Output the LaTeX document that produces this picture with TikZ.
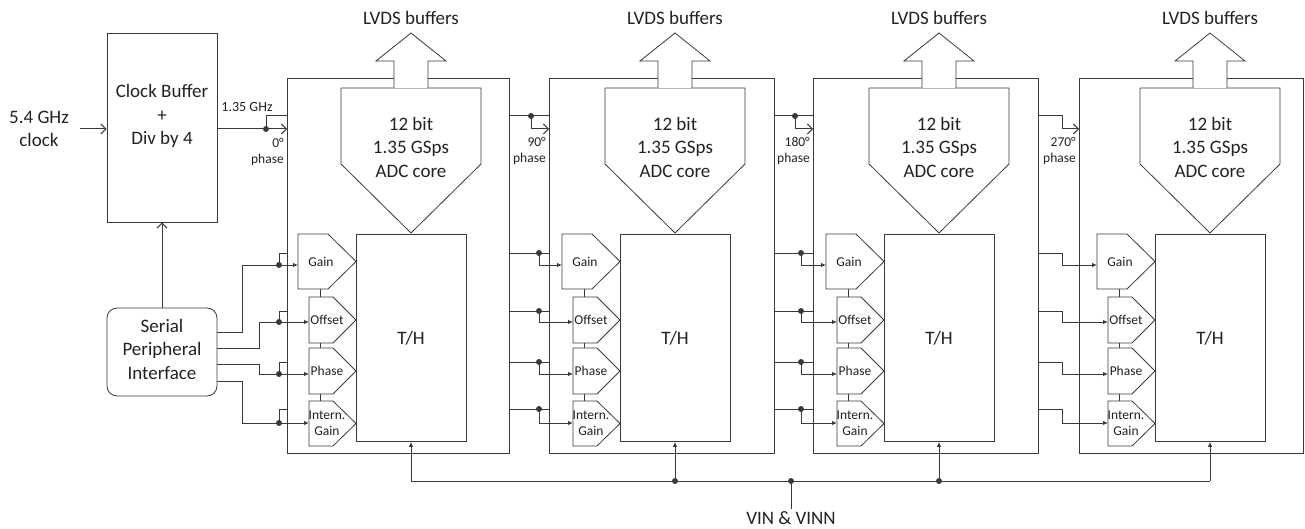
\documentclass[tikz,border=0pt]{standalone}
\usepackage{fontspec}
\setmainfont{Carlito}
\usetikzlibrary{arrows.meta}
\definecolor{lc}{HTML}{3A3A3A}
\definecolor{tc}{HTML}{222222}
\tikzset{
  ln/.style={draw=lc, line width=1pt},
  box/.style={draw=lc, line width=0.8pt, fill=white, inner sep=0pt},
  big/.style={font=\fontsize{19}{23.5}\selectfont, text=tc, align=center},
  small/.style={font=\fontsize{13.5}{16.5}\selectfont, text=tc, align=center},
  sig/.style={draw=lc, line width=1pt, -{Latex[length=5pt,width=4.5pt]}},
  clkarrow/.style={draw=lc, line width=1pt, -{Straight Barb[length=5pt,width=10pt]}},
  dot/.style={circle, fill=lc, inner sep=0pt, minimum size=6pt},
}
\begin{document}
\begin{tikzpicture}[x=1pt,y=-1pt]
\useasboundingbox (0,0) rectangle (1305,529);

% ---------- blocks ----------
\foreach \i/\L/\R/\c in {1/287/509/411,2/549/774/675,3/813/1038/939,4/1079/1303/1210}{
  \node[box, anchor=north west, minimum width={(\R-\L)*1pt}, minimum height=375pt] (blk\i) at (\L,78) {};
  \node[box, big, anchor=north, minimum width=110pt, minimum height=207pt] (th\i) at (\c,234) {T/H};
  \draw[box] ({\c-70},88) -- ({\c+70},88) -- ({\c+70},164) -- (\c,233) -- ({\c-70},164) -- cycle;
  \node[big] (adc\i) at (\c,147) {12 bit\\1.35 GSps\\ADC core};
  \draw[box] ({\c-17},88) -- ({\c-17},61) -- ({\c-35},61) -- (\c,33) -- ({\c+35},61) -- ({\c+17},61) -- ({\c+17},88);
  \node[big] (lvds\i) at (\c,18) {LVDS buffers};
  % small control pentagons
  \draw[box] ({\c-113},234) -- ({\c-83},234) -- ({\c-55},261.5) -- ({\c-83},289) -- ({\c-113},289) -- cycle;
  \draw[box] ({\c-102},297) -- ({\c-78},297) -- ({\c-55},320) -- ({\c-78},343) -- ({\c-102},343) -- cycle;
  \draw[box] ({\c-102},348) -- ({\c-78},348) -- ({\c-55},371) -- ({\c-78},394) -- ({\c-102},394) -- cycle;
  \draw[box] ({\c-102},401) -- ({\c-78},401) -- ({\c-55},423.5) -- ({\c-78},446) -- ({\c-102},446) -- cycle;
  \draw[ln, line width=0.8pt] ({\c-91},289) -- ({\c-91},297);
  \draw[ln, line width=0.8pt] ({\c-91},343) -- ({\c-91},348);
  \draw[ln, line width=0.8pt] ({\c-91},394) -- ({\c-91},401);
  \node[small] (gain\i) at ({\c-90},262) {Gain};
  \node[small] (off\i) at ({\c-84},320) {Offset};
  \node[small] (pha\i) at ({\c-84},371) {Phase};
  \node[small] (ig\i) at ({\c-84},423) {Intern.\\Gain};
}

% ---------- left side ----------
\node[box, minimum width=110pt, minimum height=189pt] (cb) at (162,127.5) {};
\node[big] (cbt) at (162,116) {Clock Buffer\\+\\Div by 4};
\node[box, rounded corners=10pt, minimum width=110pt, minimum height=88pt] (spi) at (162,352) {};
\node[big] (spit) at (162,349) {Serial\\Peripheral\\Interface};
\node[big, inner xsep=11pt] (inclk) at (39,129) {5.4 GHz\\clock};
\draw[clkarrow] (inclk.east) -- (inclk.east -| cb.west);
\draw[clkarrow] (spi.north) -- (cb.south);

% clock into block 1
\coordinate (cbo) at (217,129);
\node[dot] (dc1) at (266,129) {};
\draw[clkarrow] (cbo) -- (cbo -| blk1.west);
\draw[ln] (dc1.center) |- (blk1.west |- 0,116);
\node[font=\fontsize{14}{16}\selectfont, text=tc] (f135) at (247,107) {1.35 GHz};
\node[small, anchor=east, align=right, inner sep=1pt] (ph1) at (285,152) {0°\\phase};
\node[small, anchor=east, align=right, inner sep=1pt] (ph2) at (547,151) {90°\\phase};
\node[small, anchor=east, align=right, inner sep=1pt] (ph3) at (811,151) {180°\\phase};
\node[small, anchor=east, align=right, inner sep=1pt] (ph4) at (1077,151) {270°\\phase};

% SPI wires into block 1
\foreach \k/\sy/\vx/\top/\ay/\tg in {g/332/242/253/265/113, o/348/259/311/322/102, p/364/259/362/374/102, n/381/242/409/423/102}{
  \node[dot] (ds\k) at (279,\ay) {};
  \draw[sig] (spi.east |- 0,\sy) -| (\vx,\ay) -- ({411-\tg},\ay);
  \draw[ln] (ds\k.center) |- (blk1.west |- 0,\top);
}

% blocks 2 and 3
\foreach \i/\P/\xd/\xc/\c in {2/1/539/531/675, 3/2/801/795/939}{
  \draw[ln] (blk\P.east |- 0,116) -- (blk\i.west |- 0,116);
  \node[dot] (dc\i) at (\xc,116) {};
  \draw[clkarrow] (dc\i.center) |- (blk\i.west |- 0,129);
  \foreach \k/\top/\ay/\tg in {g/253/265/113, o/311/322/102, p/362/374/102, n/409/423/102}{
    \draw[ln] (blk\P.east |- 0,\top) -- (blk\i.west |- 0,\top);
    \node[dot] (d\i\k) at (\xd,\top) {};
    \draw[sig] (d\i\k.center) |- ({\c-\tg},\ay);
  }
}

% block 4
\draw[clkarrow] (blk3.east |- 0,116) -| (1062,129) -- (blk4.west |- 0,129);
\foreach \k/\top/\ay/\tg in {g/253/265/113, o/311/322/102, p/362/374/102, n/409/423/102}{
  \draw[sig] (blk3.east |- 0,\top) -| (1062,\ay) -- ({1210-\tg},\ay);
}

% ---------- VIN bus ----------
\foreach \i in {1,...,4}{
  \draw[sig] (th\i.south |- 0,481) -- (th\i.south);
}
\draw[ln] (th1.south |- 0,481) -- (th4.south |- 0,481);
\node[dot] (dv2) at (th2.south |- 0,481) {};
\node[dot] (dv3) at (th3.south |- 0,481) {};
\node[dot] (dvin) at (791,481) {};
\node[big, inner sep=2pt] (vin) at (791,518) {VIN \& VINN};
\draw[ln] (vin.north) -- (dvin.center);
\end{tikzpicture}
\end{document}
